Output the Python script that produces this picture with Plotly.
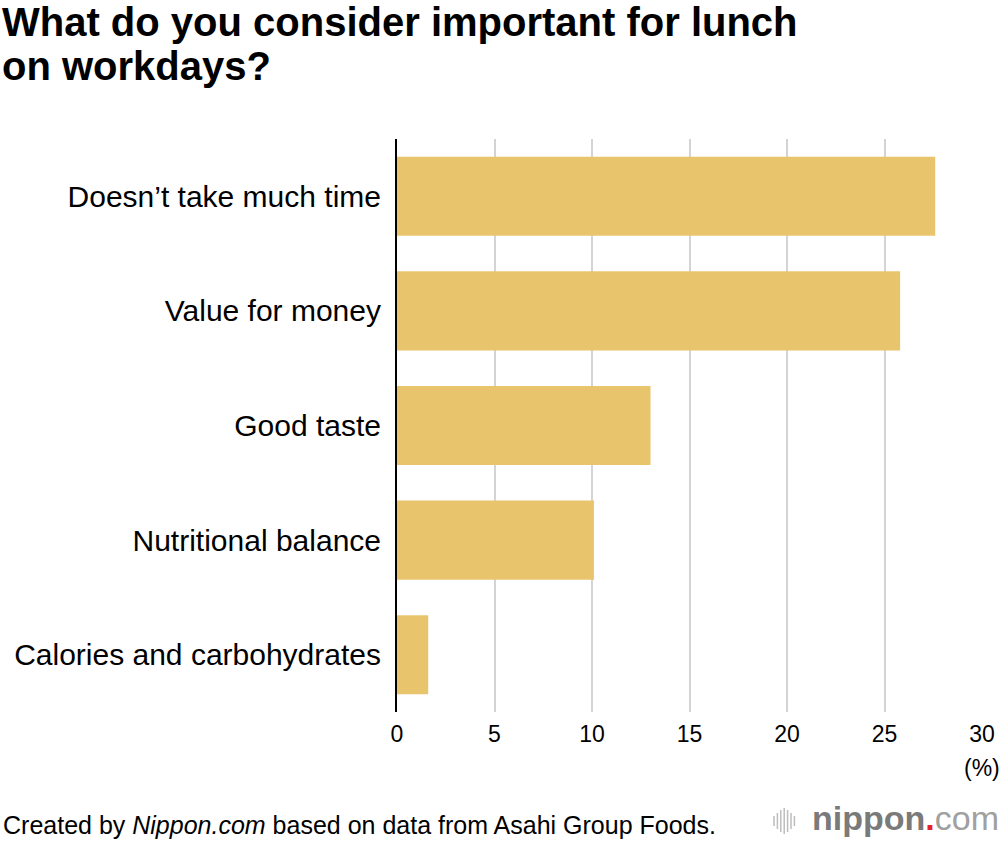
import plotly.graph_objects as go

categories = ["Doesn\u2019t take much time", "Value for money", "Good taste",
              "Nutritional balance", "Calories and carbohydrates"]
values = [27.6, 25.8, 13.0, 10.1, 1.6]
x_ticks = [0, 5, 10, 15, 20, 25, 30]

FONT = "Liberation Sans, Arial, Helvetica, sans-serif"

L, R, T, B = 397, 18, 139, 130
W, H = 1000, 842
PW, PH = W - L - R, H - T - B


def px(x):
    return (x - L) / PW


def py(y):
    return (H - B - y) / PH


fig = go.Figure(go.Bar(
    x=values, y=categories, orientation="h",
    marker=dict(color="#E8C46C", line=dict(width=0)),
    hoverinfo="x+y",
))

fig.update_layout(
    width=W, height=H,
    margin=dict(l=L, r=R, t=T, b=B, autoexpand=False),
    paper_bgcolor="white", plot_bgcolor="white",
    bargap=0.31,
    showlegend=False,
    font=dict(family=FONT, color="black"),
    xaxis=dict(
        range=[0, 30], tickvals=x_ticks, ticktext=[str(v) for v in x_ticks],
        showgrid=True, gridcolor="#d4d4d4", gridwidth=2,
        zeroline=False, showline=False, ticks="",
        tickfont=dict(size=23, color="black"), ticklabelstandoff=6,
        automargin=False, fixedrange=True,
    ),
    yaxis=dict(
        categoryorder="array", categoryarray=categories[::-1],
        showgrid=False, zeroline=False,
        showline=True, linecolor="black", linewidth=2,
        ticks="", tickfont=dict(size=30, color="black"), ticklabelstandoff=8,
        automargin=False, fixedrange=True,
    ),
)

fig.add_annotation(
    text="<b>What do you consider important for lunch</b>",
    xref="paper", yref="paper", x=px(0), y=py(-2),
    xanchor="left", yanchor="top", align="left", showarrow=False,
    font=dict(size=40, color="black", family=FONT),
)
fig.add_annotation(
    text="<b>on workdays?</b>",
    xref="paper", yref="paper", x=px(0), y=py(42),
    xanchor="left", yanchor="top", align="left", showarrow=False,
    font=dict(size=40, color="black", family=FONT),
)
fig.add_annotation(
    text="(%)", xref="paper", yref="paper", x=px(1002), y=py(768),
    xanchor="right", yanchor="middle", showarrow=False,
    font=dict(size=23, color="black", family=FONT),
)
fig.add_annotation(
    text="Created by <i>Nippon.com</i> based on data from Asahi Group Foods.",
    xref="paper", yref="paper", x=px(1), y=py(825),
    xanchor="left", yanchor="middle", showarrow=False,
    font=dict(size=25, color="black", family=FONT),
)
fig.add_annotation(
    text="<b><span style='color:#7a7a7a'>nippon</span></b><span style='color:#e8202a'><b>.</b></span><span style='color:#a0a0a0'>com</span>",
    xref="paper", yref="paper", x=px(1001), y=py(818),
    xanchor="right", yanchor="middle", showarrow=False,
    font=dict(size=34, family=FONT),
)
# logo bars icon
heights = [10, 16, 22, 26, 22, 16, 10]
for i, h in enumerate(heights):
    x = 774 + i * 3.4
    fig.add_shape(type="line", xref="paper", yref="paper",
                  x0=px(x), x1=px(x),
                  y0=py(821 - h / 2), y1=py(821 + h / 2),
                  line=dict(color="#bdbdbd", width=1.5))

fig.write_html(
    "out.html",
    config={"displayModeBar": False},
    post_script="document.body.style.margin='0';document.body.style.overflow='hidden';",
)
